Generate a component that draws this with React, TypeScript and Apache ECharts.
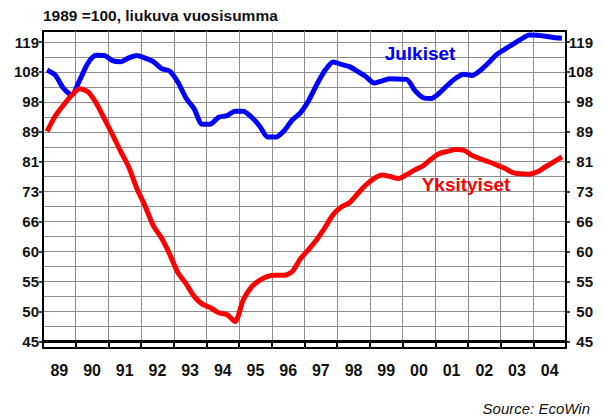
import React, { useEffect, useRef } from 'react';
import * as echarts from 'echarts';

// Year categories on the x axis (each band is one year)
const yearLabels = ['89', '90', '91', '92', '93', '94', '95', '96', '97', '98', '99', '00', '01', '02', '03', '04'];
// Tick labels of the logarithmic y axis (bottom to top)
const yTickLabels = [45, 50, 55, 60, 66, 73, 81, 89, 98, 108, 119];

// Quarterly observations, first one at 1989 Q1 (mid-quarter)
const firstQuarter = 1989.125;
const quarterStep = 0.25;

// Julkiset (public), 1989 = 100, moving annual sum
const julkiset = [
  109.0, 107.2, 102.7, 100.5, 105.5, 111.5, 114.4, 114.3,
  112.4, 112.0, 113.4, 114.3, 113.3, 112.0, 109.5, 108.6,
  104.8, 99.5, 96.0, 91.3, 91.4, 93.4, 93.9, 95.3,
  95.3, 93.5, 90.8, 87.6, 87.6, 89.4, 92.6, 94.8,
  98.6, 103.9, 108.8, 111.9, 111.0, 110.2, 108.5, 106.7,
  104.5, 105.2, 105.9, 105.8, 105.7, 102.0, 99.6, 99.3,
  101.1, 103.7, 106.1, 107.5, 107.0, 108.8, 111.5, 114.6,
  116.6, 118.5, 120.5, 122.2, 122.1, 121.7, 121.2, 120.9,
];

// Yksityiset (private), 1989 = 100, moving annual sum
const yksityiset = [
  89.2, 93.8, 97.2, 100.4, 102.5, 101.5, 97.9, 93.0,
  88.3, 83.6, 79.4, 74.0, 69.9, 65.6, 63.0, 59.8,
  56.3, 54.3, 52.1, 50.8, 50.2, 49.4, 49.1, 48.0,
  51.5, 53.7, 54.9, 55.6, 55.8, 55.8, 56.5, 58.9,
  60.7, 62.7, 65.2, 68.0, 69.7, 70.7, 72.8, 74.9,
  76.5, 77.4, 77.0, 76.5, 77.5, 78.7, 79.7, 81.5,
  83.0, 83.6, 84.1, 83.9, 82.5, 81.6, 80.8, 80.0,
  79.1, 78.0, 77.7, 77.6, 78.2, 79.5, 80.8, 82.1,
];

// Log scale: axis unit = one geometric step between labelled grid lines
const LOG_BASE_VALUE = 45;
const LOG_STEP = Math.log(119.4 / 45) / 10;
const toAxis = (v: number) => Math.log(v / LOG_BASE_VALUE) / LOG_STEP;
const Y_MIN = -0.224;
const Y_MAX = 10.368;

const FONT = '"Liberation Sans", Arial, Helvetica, sans-serif';

export default function App() {
  const ref = useRef<HTMLDivElement>(null);

  useEffect(() => {
    if (!ref.current) return;
    const chart = echarts.init(ref.current, undefined, { renderer: 'svg' });

    const majorTicks = yTickLabels.map((_, i) => i);
    const halfTicks: number[] = [];
    for (let i = 0; i < yTickLabels.length * 2 - 1; i++) halfTicks.push(i / 2);

    const toSeries = (arr: number[]) =>
      arr.map((v, i) => [firstQuarter + i * quarterStep, toAxis(v)]);

    const labelFmt = (v: number) => {
      const idx = Math.round(v);
      return yTickLabels[idx] !== undefined ? String(yTickLabels[idx]) : '';
    };

    const gridColor = '#8e8e8e';

    chart.setOption({
      animation: false,
      backgroundColor: '#fff',
      grid: {
        left: 43,
        right: 39,
        top: 31,
        bottom: 68,
        show: true,
        borderColor: '#000',
        borderWidth: 2,
        backgroundColor: 'transparent',
      },
      xAxis: [
        {
          type: 'category',
          data: yearLabels,
          boundaryGap: true,
          position: 'bottom',
          axisLine: { show: true, lineStyle: { color: '#000', width: 3 } },
          axisTick: { show: true, interval: 0, length: 6, lineStyle: { color: '#000', width: 2 } },
          axisLabel: {
            interval: 0,
            margin: 14,
            color: '#111',
            fontSize: 16,
            fontWeight: 'bold',
            fontFamily: FONT,
          },
          splitLine: { show: true, interval: 0, lineStyle: { color: gridColor, width: 1 } },
        },
        {
          type: 'value',
          min: 1989,
          max: 2005,
          show: false,
          splitLine: { show: false },
        },
      ],
      yAxis: [
        {
          type: 'value',
          position: 'left',
          min: Y_MIN,
          max: Y_MAX,
          axisLine: { show: true, lineStyle: { color: '#000', width: 2 } },
          axisTick: { show: true, customValues: majorTicks, length: 4, lineStyle: { color: '#000', width: 1.5 } },
          axisLabel: {
            customValues: majorTicks,
            formatter: labelFmt,
            margin: 4,
            color: '#111',
            fontSize: 15,
            fontWeight: 'bold',
            fontFamily: FONT,
          },
          splitLine: { show: false },
        },
        {
          type: 'value',
          position: 'right',
          min: Y_MIN,
          max: Y_MAX,
          axisLine: { show: true, lineStyle: { color: '#000', width: 2 } },
          axisTick: { show: true, customValues: majorTicks, length: 4, lineStyle: { color: '#000', width: 1.5 } },
          axisLabel: {
            customValues: majorTicks,
            formatter: labelFmt,
            margin: 27,
            align: 'right',
            color: '#111',
            fontSize: 15,
            fontWeight: 'bold',
            fontFamily: FONT,
          },
          splitLine: { show: false },
        },
        {
          type: 'value',
          position: 'left',
          min: Y_MIN,
          max: Y_MAX,
          axisLine: { show: false },
          axisTick: { show: false, customValues: halfTicks },
          axisLabel: { show: false },
          splitLine: { show: true, lineStyle: { color: gridColor, width: 1 } },
        },
      ],
      series: [
        {
          name: 'Julkiset',
          type: 'line',
          xAxisIndex: 1,
          yAxisIndex: 0,
          data: toSeries(julkiset),
          showSymbol: false,
          smooth: 0.25,
          lineStyle: { color: '#0000FF', width: 5 },
          z: 3,
        },
        {
          name: 'Yksityiset',
          type: 'line',
          xAxisIndex: 1,
          yAxisIndex: 0,
          data: toSeries(yksityiset),
          showSymbol: false,
          smooth: 0.25,
          lineStyle: { color: '#FF0000', width: 5 },
          z: 4,
        },
      ],
      graphic: [
        {
          type: 'text',
          left: 43,
          top: 7,
          style: {
            text: '1989 =100, liukuva vuosisumma',
            fill: '#111',
            font: `bold 15.5px ${FONT}`,
          },
        },
        {
          type: 'text',
          x: 420,
          y: 53,
          style: {
            text: 'Julkiset',
            fill: '#0000FF',
            font: `bold 19px ${FONT}`,
            align: 'center',
            verticalAlign: 'middle',
          },
          z: 10,
        },
        {
          type: 'text',
          x: 466,
          y: 184,
          style: {
            text: 'Yksityiset',
            fill: '#FF0000',
            font: `bold 19px ${FONT}`,
            align: 'center',
            verticalAlign: 'middle',
          },
          z: 10,
        },
        {
          type: 'text',
          x: 590,
          y: 408,
          style: {
            text: 'Source: EcoWin',
            fill: '#111',
            font: `italic 15px ${FONT}`,
            align: 'right',
            verticalAlign: 'middle',
          },
        },
      ],
    });

    return () => chart.dispose();
  }, []);

  return (
    <div
      ref={ref}
      style={{ position: 'fixed', left: 0, top: 0, width: 605, height: 416, background: '#fff' }}
    />
  );
}
